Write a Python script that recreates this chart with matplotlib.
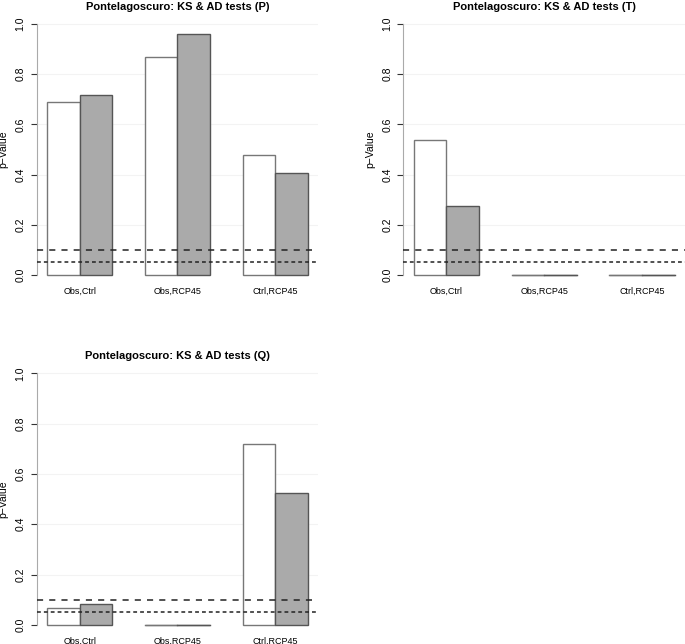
import numpy as np
import matplotlib.pyplot as plt

plt.rcParams['font.family'] = ['Liberation Sans', 'DejaVu Sans']

groups = ["Obs,Ctrl", "Obs,RCP45", "Ctrl,RCP45"]
titles = ["Pontelagoscuro: KS & AD tests (P)",
          "Pontelagoscuro: KS & AD tests (T)",
          "Pontelagoscuro: KS & AD tests (Q)"]
ks_values = {
    "P": [0.688, 0.870, 0.479],
    "T": [0.538, 0.0, 0.0],
    "Q": [0.066, 0.0, 0.719],
}
ad_values = {
    "P": [0.716, 0.959, 0.408],
    "T": [0.276, 0.0, 0.0],
    "Q": [0.082, 0.0, 0.526],
}
y_ticks = [0.0, 0.2, 0.4, 0.6, 0.8, 1.0]
thresholds = [0.05, 0.1]


def draw_panel(ax, title, ks, ad):
    # R barplot(beside=TRUE) positions: bars of width 1, one gap between groups
    x_ks = np.arange(len(groups)) * 3 + 1.5
    x_ad = x_ks + 1
    for y in y_ticks[1:]:
        ax.axhline(y, color='#f3f3f3', lw=0.8, zorder=0)
    ax.bar(x_ks, ks, width=1, color='white', edgecolor='#777777', lw=1.0, zorder=2)
    ax.bar(x_ad, ad, width=1, color='#aaaaaa', edgecolor='#555555', lw=1.0, zorder=2)
    # zero-height bars still show as a line
    for xk, xa, k, a in zip(x_ks, x_ad, ks, ad):
        if k == 0:
            ax.plot([xk - 0.5, xk + 0.5], [0, 0], color='#777777', lw=1.0, zorder=3)
        if a == 0:
            ax.plot([xa - 0.5, xa + 0.5], [0, 0], color='#555555', lw=1.0, zorder=3)
    ax.axhline(thresholds[1], color='#222222', lw=1.1, ls=(0, (4, 4)), zorder=4)
    ax.axhline(thresholds[0], color='#222222', lw=1.1, ls=(0, (2.5, 2)), zorder=4)

    ax.set_xlim(0.68, 9.32)
    ax.set_ylim(-0.04, 1.04)
    for s in ['top', 'right', 'bottom']:
        ax.spines[s].set_visible(False)
    ax.spines['left'].set_bounds(0, 1)
    ax.spines['left'].set_color('#aaaaaa')
    ax.set_yticks(y_ticks)
    ax.set_yticklabels([f"{v:.1f}" for v in y_ticks], rotation=90, va='center', fontsize=7.5)
    ax.tick_params(axis='y', length=4, width=0.8, color='#333333', pad=4)
    ax.set_xticks(x_ks + 0.5)
    ax.set_xticklabels(groups, fontsize=6.5)
    ax.tick_params(axis='x', length=0, pad=1)
    ax.set_ylabel("p\u2212Value", fontsize=7.5, labelpad=5)
    ax.set_title(title, fontsize=8, fontweight='bold', pad=3)


fig = plt.figure(figsize=(6.85, 6.44), dpi=100)
ax1 = fig.add_axes([0.0534, 0.5575, 0.4114, 0.4208])
ax2 = fig.add_axes([0.5888, 0.5575, 0.4114, 0.4208])
ax3 = fig.add_axes([0.0534, 0.014, 0.4114, 0.422])

for ax, title, key in zip([ax1, ax2, ax3], titles, ["P", "T", "Q"]):
    draw_panel(ax, title, ks_values[key], ad_values[key])

fig.savefig("out.png", dpi=100)
